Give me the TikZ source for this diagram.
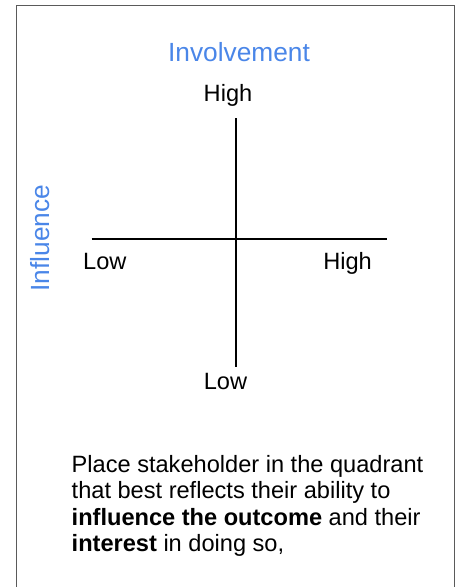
\documentclass[tikz,border=0pt]{standalone}
\usepackage{fontspec}
\setmainfont{Liberation Sans}
\usetikzlibrary{positioning}
\definecolor{cornflower}{RGB}{74,134,232}
\definecolor{framegray}{RGB}{90,90,90}
\tikzset{
    %Define style for the axis titles
    title/.style={
           text=cornflower,
           inner sep=0pt,
           font=\fontsize{26.3}{30}\selectfont},
    %Define style for the low/high labels
    level/.style={
           inner sep=0pt,
           font=\fontsize{23.6}{27}\selectfont},
    % Define axis line style
    axisline/.style={
           line width=2pt,
           black},
every node/.style={align=left}
}
\begin{document}
\begin{tikzpicture}[x=1pt, y=-1pt]
\useasboundingbox (0,0) rectangle (458,587);

%frame, open at the bottom
\draw[framegray, line width=1pt] (16.5,587) |- (454.5,5) -- (454.5,587);

%axis ends
\coordinate (top) at (236,118);
\coordinate (bottom) at (236,366.7);
\coordinate (left) at (91.7,239.3);
\coordinate (right) at (387,239.3);
\draw[axisline] (top) -- (bottom);
\draw[axisline] (left) -- (right);

%titles
\node[title, anchor=base] (involvement) at (239,61) {Involvement};
\node[title, anchor=base, rotate=90] (influence) at (49.5,238) {Influence};

%levels
\node[level, anchor=base] (hightop) at (228,101.7) {High};
\node[level, anchor=base west] (lowleft) at (83,269) {Low};
\node[level, anchor=base east] (highright) at (372,269) {High};
\node[level, anchor=base] (lowbottom) at (225.5,389) {Low};

%note
\node[level, anchor=north west, font=\fontsize{23.6}{26.6}\selectfont] (note) at (71.5,454.8) {Place stakeholder in the quadrant\\
that best reflects their ability to\\
\textbf{influence the outcome} and their\\
\textbf{interest} in doing so,};

\end{tikzpicture}
\end{document}
